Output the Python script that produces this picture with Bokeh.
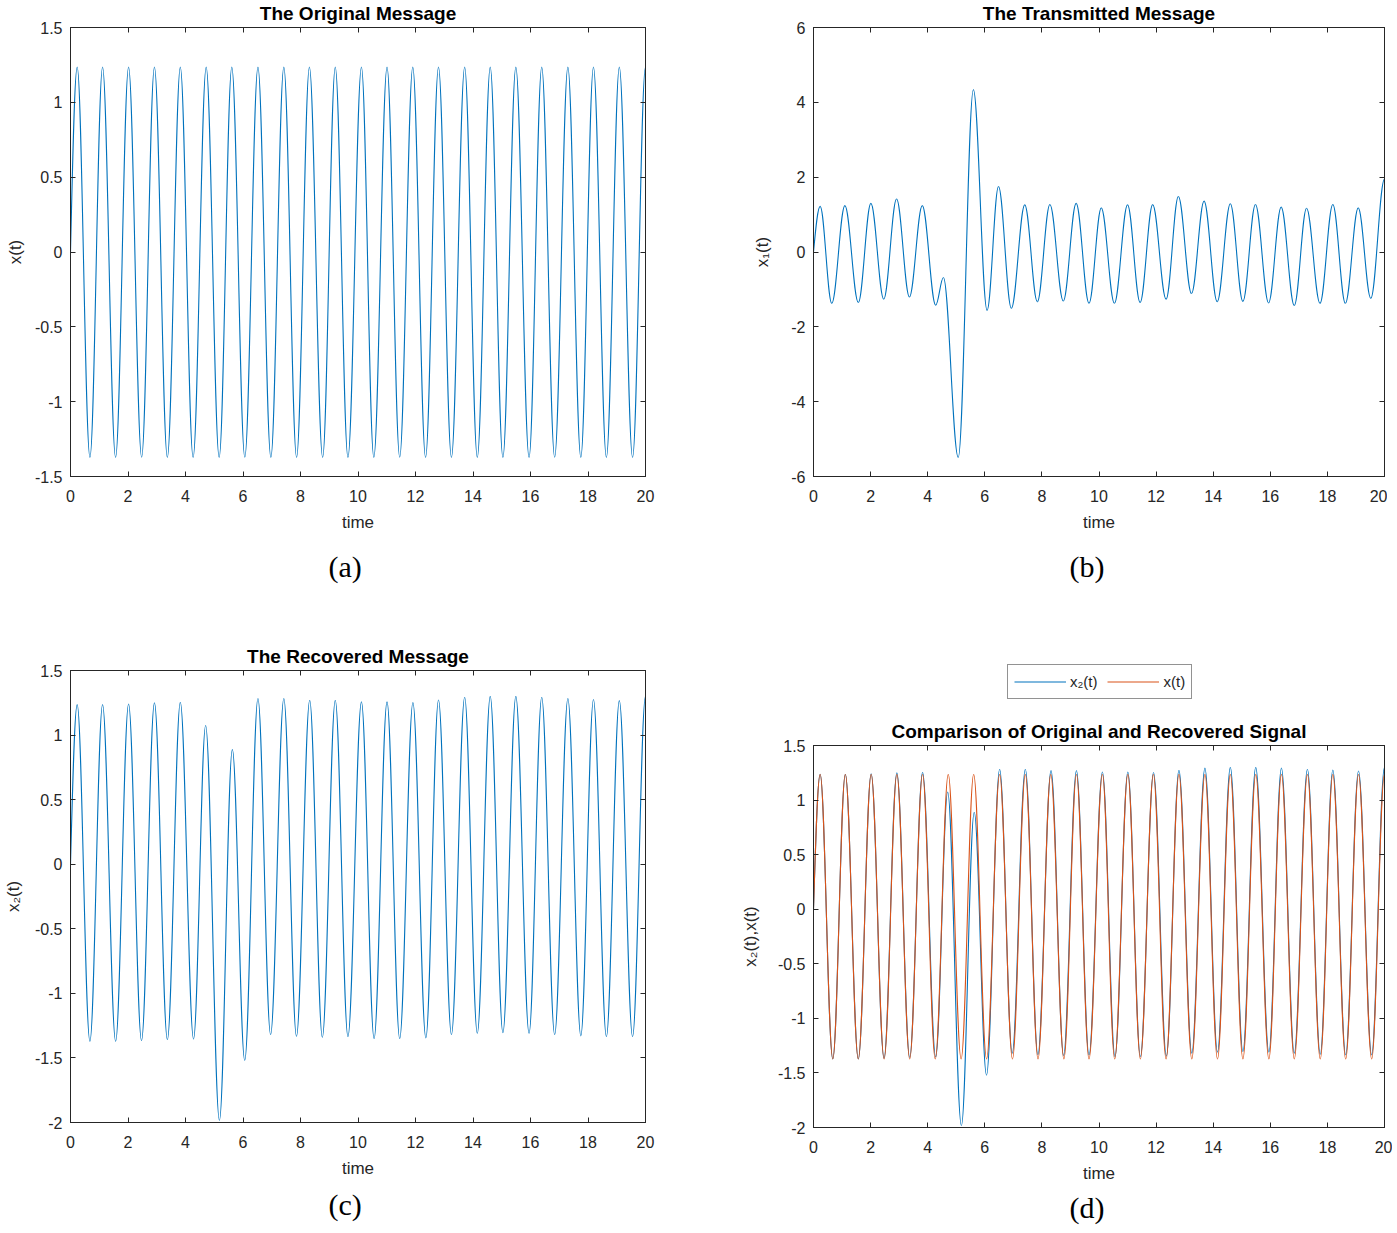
import numpy as np
from bokeh.plotting import figure
from bokeh.layouts import column, row
from bokeh.models import (LinearAxis, FixedTicker, CustomJSTickFormatter, Title,
                          Legend, LegendItem, Range1d, ColumnDataSource,
                          CustomLabelingPolicy)
from bokeh.embed import file_html
from bokeh.resources import INLINE

# ---------------- data (extrema) ----------------
time_ticks = [0, 2, 4, 6, 8, 10, 12, 14, 16, 18, 20]
ticks_a = [-1.5, -1, -0.5, 0, 0.5, 1, 1.5]
ticks_b = [-6, -4, -2, 0, 2, 4, 6]
ticks_c = [-2, -1.5, -1, -0.5, 0, 0.5, 1, 1.5]

# original message x(t)
x_time = [0.0, 0.233, 0.676, 1.115, 1.568, 2.02, 2.474, 2.92, 3.369, 3.82, 4.265,
          4.72, 5.171, 5.61, 6.063, 6.52, 6.969, 7.42, 7.864, 8.31, 8.77, 9.21,
          9.65, 10.12, 10.55, 11.01, 11.45, 11.905, 12.35, 12.80, 13.25, 13.71,
          14.15, 14.60, 15.04, 15.49, 15.95, 16.39, 16.84, 17.30, 17.75, 18.19,
          18.64, 19.09, 19.55, 20.0]
x_val = [0.0, 1.235, -1.372, 1.235, -1.372, 1.235, -1.371, 1.235, -1.372, 1.235,
         -1.372, 1.235, -1.372, 1.235, -1.371, 1.235, -1.372, 1.235, -1.372, 1.235,
         -1.372, 1.235, -1.372, 1.235, -1.372, 1.235, -1.371, 1.235, -1.372, 1.235,
         -1.372, 1.235, -1.372, 1.235, -1.372, 1.235, -1.372, 1.235, -1.371, 1.235,
         -1.372, 1.235, -1.372, 1.235, -1.372, 1.235]

# transmitted message x1(t)
x1_time = [0.0, 0.233, 0.64, 1.10, 1.57, 2.01, 2.46, 2.91, 3.36, 3.81, 4.28, 4.55,
           5.07, 5.60, 6.08, 6.48, 6.93, 7.40, 7.84, 8.28, 8.75, 9.20, 9.65, 10.08,
           10.54, 11.00, 11.44, 11.88, 12.35, 12.78, 13.24, 13.68, 14.14, 14.60,
           15.04, 15.48, 15.94, 16.38, 16.84, 17.27, 17.74, 18.19, 18.63, 19.08,
           19.52, 20.0]
x1_val = [0.0, 1.22, -1.37, 1.24, -1.35, 1.30, -1.26, 1.415, -1.20, 1.24, -1.42,
          -0.68, -5.49, 4.34, -1.56, 1.75, -1.505, 1.26, -1.33, 1.27, -1.31, 1.30,
          -1.37, 1.18, -1.37, 1.26, -1.35, 1.265, -1.26, 1.485, -1.11, 1.36, -1.33,
          1.29, -1.32, 1.27, -1.36, 1.20, -1.43, 1.17, -1.37, 1.27, -1.37, 1.18,
          -1.24, 1.95]

# recovered message x2(t)
x2_time = [0.0, 0.233, 0.675, 1.115, 1.57, 2.02, 2.47, 2.92, 3.37, 3.82, 4.28, 4.70,
           5.18, 5.63, 6.06, 6.52, 6.96, 7.42, 7.86, 8.32, 8.76, 9.21, 9.65, 10.12,
           10.56, 11.01, 11.45, 11.91, 12.36, 12.80, 13.25, 13.71, 14.15, 14.60,
           15.04, 15.49, 15.95, 16.39, 16.84, 17.30, 17.75, 18.19, 18.64, 19.09,
           19.55, 20.0]
x2_val = [0.0, 1.236, -1.371, 1.236, -1.371, 1.241, -1.366, 1.249, -1.358, 1.254,
          -1.353, 1.074, -1.984, 0.889, -1.52, 1.283, -1.319, 1.283, -1.332, 1.27,
          -1.34, 1.27, -1.335, 1.257, -1.35, 1.257, -1.35, 1.252, -1.345, 1.272,
          -1.319, 1.293, -1.309, 1.30, -1.304, 1.30, -1.309, 1.293, -1.319, 1.283,
          -1.329, 1.275, -1.335, 1.267, -1.335, 1.30]

# ---------------- styling ----------------
FONT = "Liberation Sans"
SERIF = "Liberation Serif"
BLUE = "#0072BD"
ORANGE = "#D95319"
AX = "#262626"
FW_L = 575   # left column frame width
FW_R = 571   # right column frame width (room for the last tick label)


def curve(p, ts, vs, color):
    """Smooth curve through the read extrema (horizontal tangent at each extremum)."""
    t = np.asarray(ts, float)
    v = np.asarray(vs, float)
    dt = t[1:] - t[:-1]
    k = 0.364
    cx0 = t[:-1] + k * dt
    cy0 = v[:-1].copy()
    cx1 = t[1:] - k * dt
    cy1 = v[1:].copy()
    # first point is a zero crossing, not an extremum
    cx0[0] = t[0] + dt[0] / 3.0
    cy0[0] = v[0] + 0.524 * (v[1] - v[0])
    src = ColumnDataSource(dict(x0=t[:-1], y0=v[:-1], x1=t[1:], y1=v[1:],
                                cx0=cx0, cy0=cy0, cx1=cx1, cy1=cy1))
    return p.bezier(x0="x0", y0="y0", x1="x1", y1="y1", cx0="cx0", cy0="cy0",
                    cx1="cx1", cy1="cy1", source=src, line_color=color, line_width=1.1)


def hidden_axis(ticks):
    return LinearAxis(ticker=FixedTicker(ticks=ticks), major_label_text_font_size="1px",
                      major_label_standoff=0, major_tick_in=5, major_tick_out=0,
                      minor_tick_line_color=None, axis_line_color=AX,
                      major_tick_line_color=AX,
                      major_label_policy=CustomLabelingPolicy(
                          code="for (const i of indices) { indices.unset(i) }"))


def make_fig(fw, fh, yr, yticks, ylabel, left, right, top, bottom, ylab_standoff):
    p = figure(title=None, frame_width=fw, frame_height=fh, x_range=Range1d(0, 20),
               y_range=Range1d(*yr), output_backend="svg", toolbar_location=None,
               tools="", min_border_left=left, min_border_right=right,
               min_border_top=top, min_border_bottom=bottom,
               background_fill_color="white", border_fill_color="white")
    p.grid.visible = False
    p.outline_line_color = AX
    p.outline_line_width = 1
    fmt = CustomJSTickFormatter(code="return tick.toString();")
    p.xaxis.ticker = FixedTicker(ticks=time_ticks)
    p.yaxis.ticker = FixedTicker(ticks=yticks)
    p.xaxis.formatter = fmt
    p.yaxis.formatter = fmt
    p.xaxis.axis_label = "time"
    p.yaxis.axis_label = ylabel
    for ax in list(p.xaxis) + list(p.yaxis):
        ax.axis_line_color = AX
        ax.major_tick_line_color = AX
        ax.major_tick_in = 5
        ax.major_tick_out = 0
        ax.minor_tick_line_color = None
        ax.major_label_text_font = FONT
        ax.major_label_text_font_size = "16px"
        ax.major_label_text_color = AX
        ax.axis_label_text_font = FONT
        ax.axis_label_text_font_size = "17px"
        ax.axis_label_text_font_style = "normal"
        ax.axis_label_text_color = AX
    p.xaxis.major_label_standoff = 13
    p.xaxis.axis_label_standoff = 8
    p.yaxis.major_label_standoff = 8
    p.yaxis.axis_label_standoff = ylab_standoff
    # ticks on top and right as well (box-style axes)
    p.add_layout(hidden_axis(time_ticks), "above")
    p.add_layout(hidden_axis(yticks), "right")
    return p


def add_title(p, text):
    p.add_layout(Title(text=text, align="center", text_font=FONT, text_font_size="19px",
                       text_font_style="bold", text_color="black", standoff=0), "above")


def add_caption(p, text, offset, standoff):
    p.add_layout(Title(text=text, align="left", offset=offset, text_font=SERIF,
                       text_font_size="30px", text_font_style="normal",
                       text_color="black", standoff=standoff), "below")


# ---- top row ----
fa = make_fig(FW_L, 449, (-1.5, 1.5), ticks_a, "x(t)", 64, 92, 22, 126, 7)
curve(fa, x_time, x_val, BLUE)
add_title(fa, "The Original Message")
add_caption(fa, "(a)", 258, 27)

fb = make_fig(FW_R, 449, (-6, 6), ticks_b, "x\u2081(t)", 71, 8, 22, 126, 16)
curve(fb, x1_time, x1_val, BLUE)
add_title(fb, "The Transmitted Message")
add_caption(fb, "(b)", 256, 27)

# ---- bottom row ----
fc = make_fig(FW_L, 452, (-2, 1.5), ticks_c, "x\u2082(t)", 64, 92, 68, 104, 9)
curve(fc, x2_time, x2_val, BLUE)
add_title(fc, "The Recovered Message")
add_caption(fc, "(c)", 258, 11)

fd = make_fig(FW_R, 382, (-2, 1.5), ticks_c, "x\u2082(t),x(t)", 71, 8, 30, 99, 15)
curve(fd, x2_time, x2_val, BLUE)
curve(fd, x_time, x_val, ORANGE)
add_title(fd, "Comparison of Original and Recovered Signal")
add_caption(fd, "(d)", 256, 6)

# legend strip above panel (d); each entry's glyph comes from its series' first sample
fleg = figure(title=None, frame_width=FW_R, frame_height=113, x_range=Range1d(0, 20),
              y_range=Range1d(-2, 1.5), x_axis_type=None, y_axis_type=None,
              output_backend="svg", toolbar_location=None, tools="",
              min_border_left=71, min_border_right=8, min_border_top=0,
              min_border_bottom=0, outline_line_color=None,
              background_fill_color="white", border_fill_color="white")
g2 = fleg.line(x=x2_time[:1], y=x2_val[:1], line_color=BLUE, line_width=1.1)
g0 = fleg.line(x=x_time[:1], y=x_val[:1], line_color=ORANGE, line_width=1.1)
legend = Legend(items=[LegendItem(label="x\u2082(t)", renderers=[g2]),
                       LegendItem(label="x(t)", renderers=[g0])],
                orientation="horizontal", location=(194, 16), margin=0, padding=6,
                spacing=10, label_standoff=4, glyph_width=52, glyph_height=21,
                label_height=21, label_text_font=FONT, label_text_font_size="15px",
                label_text_color=AX, border_line_color=AX, border_line_width=1,
                background_fill_color="white", background_fill_alpha=1.0)
fleg.add_layout(legend, "center")

layout = row(column(fa, fc), column(fb, fleg, fd))
open("out.html", "w").write(file_html(layout, INLINE))
